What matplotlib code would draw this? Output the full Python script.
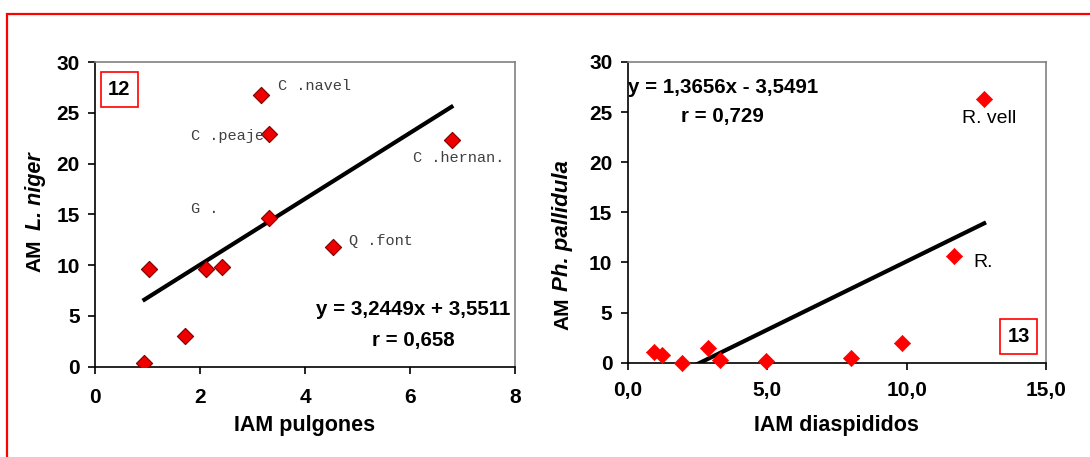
import matplotlib.pyplot as plt
from matplotlib.patches import Rectangle

# Panel 12: IAM pulgones vs AM L. niger
pulg_x = [0.94, 1.03, 1.72, 2.12, 2.41, 3.31, 3.17, 3.32, 6.79, 4.53]
pulg_y = [0.4, 9.6, 3.0, 9.6, 9.8, 14.6, 26.8, 22.9, 22.3, 11.8]
pulg_slope, pulg_icpt = 3.2449, 3.5511
pulg_labels = ["C .navel", "C .peaje", "C .hernan.", "G .", "Q .font"]
pulg_label_xy = [(3.48, 27.6), (1.82, 22.7), (6.06, 20.5), (1.82, 15.5), (4.83, 12.4)]

# Panel 13: IAM diaspididos vs AM Ph. pallidula
diasp_x = [0.95, 1.24, 1.94, 2.89, 3.30, 4.95, 8.0, 9.84, 11.7, 12.78]
diasp_y = [1.07, 0.77, 0.0, 1.43, 0.23, 0.2, 0.43, 2.0, 10.6, 26.35]
diasp_slope, diasp_icpt = 1.3656, -3.5491
diasp_labels = ["R. vell", "R."]
diasp_label_xy = [(11.97, 24.4), (12.39, 10.0)]

plt.rcParams["font.family"] = ["Liberation Sans", "DejaVu Sans"]

fig = plt.figure(figsize=(10.9, 4.57), dpi=100)

# red frame around the figure
fig.patches.append(Rectangle((7 / 1090, -0.1), 1.2, 1 - 14 / 457 + 0.1,
                             transform=fig.transFigure, fill=False,
                             edgecolor="#ff0000", linewidth=1.6))


def style_axes(ax, xpad):
    for side in ["top", "right"]:
        ax.spines[side].set_color("#808080")
    for side in ["left", "bottom"]:
        ax.spines[side].set_color("black")
    for s in ax.spines.values():
        s.set_linewidth(1.2)
    ax.tick_params(direction="out", length=5, width=1.2, labelsize=15, pad=6)
    ax.tick_params(axis="x", pad=xpad)
    for lab in ax.get_xticklabels() + ax.get_yticklabels():
        lab.set_fontweight("bold")


def box_text(ax, x, y, s):
    ax.text(x, y, s, transform=ax.transAxes, ha="center", va="center",
            fontsize=14.5, fontweight="bold",
            bbox=dict(boxstyle="square,pad=0.38", facecolor="white",
                      edgecolor="#ff0000", linewidth=1.2))


# ---- left panel ----
ax1 = fig.add_axes([0.0872, 0.1976, 0.3853, 0.6667])
ax1.scatter(pulg_x, pulg_y, marker="D", s=68, color="#ee0000",
            edgecolors="#800000", linewidths=0.8, zorder=3)
xs = [min(pulg_x), max(pulg_x)]
ax1.plot(xs, [pulg_slope * v + pulg_icpt for v in xs], color="black", lw=3, zorder=2)
for lab, (lx, ly) in zip(pulg_labels, pulg_label_xy):
    ax1.text(lx, ly, lab, family="Liberation Mono", fontsize=11,
             color="#404040", ha="left", va="center")
ax1.text(6.06, 5.6, "y = 3,2449x + 3,5511", ha="center", va="center",
         fontsize=14.8, fontweight="bold")
ax1.text(6.06, 2.6, "r = 0,658", ha="center", va="center",
         fontsize=14.8, fontweight="bold")
ax1.set_xlim(0, 8)
ax1.set_ylim(0, 30)
ax1.set_xticks([0, 2, 4, 6, 8])
ax1.set_yticks(range(0, 31, 5))
style_axes(ax1, 10)
ax1.set_xlabel("IAM pulgones", fontsize=15.5, fontweight="bold", labelpad=6)
fig.text(35 / 1090, 1 - 256 / 457, "AM", rotation=90, ha="center", va="center",
         fontsize=15, fontweight="bold")
fig.text(35 / 1090, 1 - 191 / 457, "L. niger", rotation=90, ha="center",
         va="center", fontsize=15.5, fontweight="bold", style="italic")
box_text(ax1, 0.058, 0.91, "12")

# ---- right panel ----
ax2 = fig.add_axes([0.5759, 0.2064, 0.3838, 0.658])
ax2.scatter(diasp_x, diasp_y, marker="D", s=68, color="#ff0000",
            edgecolors="#ff0000", linewidths=0.5, zorder=3, clip_on=False)
xs = [min(diasp_x), max(diasp_x)]
ax2.plot(xs, [diasp_slope * v + diasp_icpt for v in xs], color="black", lw=3, zorder=2)
for lab, (lx, ly) in zip(diasp_labels, diasp_label_xy):
    ax2.text(lx, ly, lab, fontsize=14, ha="left", va="center")
ax2.text(0.02, 27.5, "y = 1,3656x - 3,5491", ha="left", va="center",
         fontsize=14.8, fontweight="bold")
ax2.text(3.4, 24.6, "r = 0,729", ha="center", va="center",
         fontsize=14.8, fontweight="bold")
ax2.set_xlim(0, 15)
ax2.set_ylim(0, 30)
ax2.set_xticks([0, 5, 10, 15])
ax2.set_xticklabels(["0,0", "5,0", "10,0", "15,0"])
ax2.set_yticks(range(0, 31, 5))
style_axes(ax2, 8)
ax2.set_xlabel("IAM diaspididos", fontsize=15.5, fontweight="bold", labelpad=11)
fig.text(563 / 1090, 1 - 314 / 457, "AM", rotation=90, ha="center", va="center",
         fontsize=15, fontweight="bold")
fig.text(563 / 1090, 1 - 226 / 457, "Ph. pallidula", rotation=90, ha="center",
         va="center", fontsize=16, fontweight="bold", style="italic")
box_text(ax2, 0.934, 0.087, "13")

fig.savefig("out.png", dpi=100)
